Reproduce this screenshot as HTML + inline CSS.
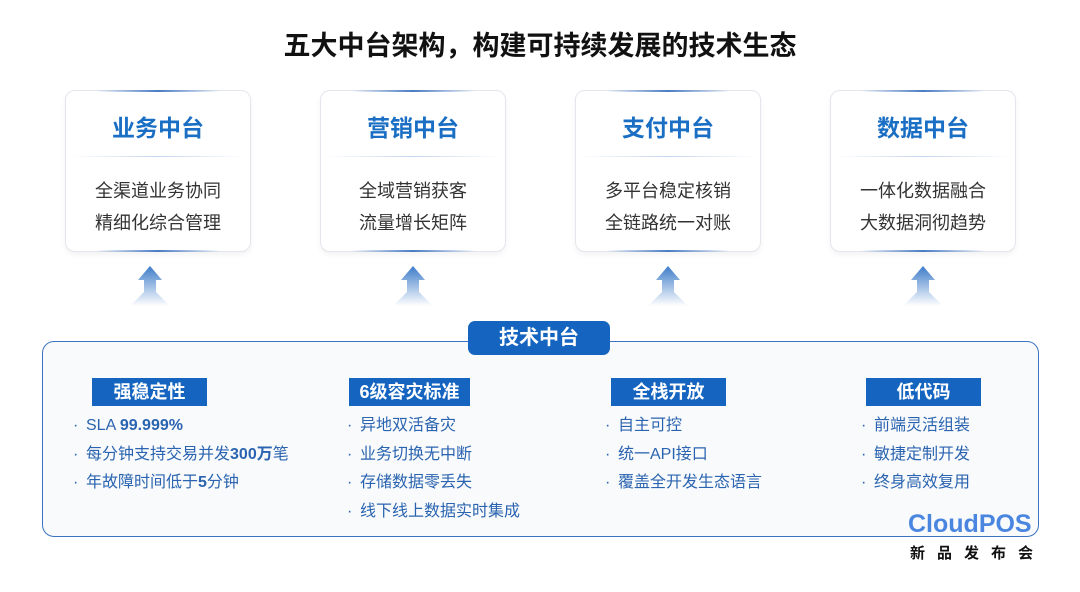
<!DOCTYPE html>
<html><head><meta charset="utf-8"><style>
*{margin:0;padding:0;box-sizing:border-box}
body{width:1080px;height:592px;background:#fff;position:relative;overflow:hidden;font-family:"Liberation Sans","Noto Sans CJK SC",sans-serif}
.abs{position:absolute}
.title{left:0;width:1080px;top:24px;text-align:center;font-size:27px;font-weight:bold;color:#111}
.card{width:186px;height:162px;top:90px;border:1px solid #e3e6ec;border-radius:10px;background:#fff;box-shadow:0 3px 6px rgba(0,0,0,.05);text-align:center}
.card:before,.card:after{content:"";position:absolute;left:30px;right:30px;height:2px;background:linear-gradient(90deg,transparent,#4a7cc4,transparent)}
.card:before{top:-1px}.card:after{bottom:-1px}
.card h2{font-size:23px;color:#1a6fc4;margin-top:22px;line-height:30px}
.card .hr{margin:13px 4px 0;height:1px;background:linear-gradient(90deg,transparent,#c2d6f0,transparent)}
.card p{font-size:18px;color:#333;line-height:32px}
.card .p1{margin-top:18px}
.box{left:42px;top:341px;width:997px;height:196px;border:1.5px solid #3b73c0;border-radius:12px;background:#f9fafc}
.tag{left:468px;top:321px;width:142px;height:34px;background:#1565c0;border-radius:7px;color:#fff;font-weight:bold;font-size:20px;text-align:center;line-height:34px}
.lab{top:378px;height:28px;width:115px;background:#1565c0;color:#fff;font-weight:bold;font-size:18px;text-align:center;line-height:28px}
.list{top:412px;font-size:16px;color:#2a64b0;line-height:28.5px}
.list div:before{content:"·";position:absolute;margin-left:-13px}
.list b{font-weight:bold}
.logo{left:908px;top:510px;font-size:25px;font-weight:bold;color:#4a86e0}
.sub{left:910px;top:542px;font-size:15px;font-weight:bold;color:#111;letter-spacing:12px}
</style></head><body>
<div class="abs title">五大中台架构，构建可持续发展的技术生态</div>

<div class="abs card" style="left:65px"><h2>业务中台</h2><div class="hr"></div><p class="p1">全渠道业务协同</p><p>精细化综合管理</p></div>
<div class="abs card" style="left:320px"><h2>营销中台</h2><div class="hr"></div><p class="p1">全域营销获客</p><p>流量增长矩阵</p></div>
<div class="abs card" style="left:575px"><h2>支付中台</h2><div class="hr"></div><p class="p1">多平台稳定核销</p><p>全链路统一对账</p></div>
<div class="abs card" style="left:830px"><h2>数据中台</h2><div class="hr"></div><p class="p1">一体化数据融合</p><p>大数据洞彻趋势</p></div>

<svg class="abs" style="left:0;top:0" width="1080" height="320">
<defs><linearGradient id="g" x1="0" y1="0" x2="0" y2="1"><stop offset="0" stop-color="#3d7cc8"/><stop offset="1" stop-color="#3d7cc8" stop-opacity="0"/></linearGradient></defs>
<g fill="url(#g)">
<path d="M150 266 L162 280 L156 280 L156 292 L170 306 L130 306 L144 292 L144 280 L138 280 Z"/>
<path d="M413 266 L425 280 L419 280 L419 292 L433 306 L393 306 L407 292 L407 280 L401 280 Z"/>
<path d="M668 266 L680 280 L674 280 L674 292 L688 306 L648 306 L662 292 L662 280 L656 280 Z"/>
<path d="M923 266 L935 280 L929 280 L929 292 L943 306 L903 306 L917 292 L917 280 L911 280 Z"/>
</g></svg>

<div class="abs box"></div>
<div class="abs tag">技术中台</div>

<div class="abs lab" style="left:92px">强稳定性</div>
<div class="abs lab" style="left:349px;width:121px">6级容灾标准</div>
<div class="abs lab" style="left:611px">全栈开放</div>
<div class="abs lab" style="left:866px">低代码</div>

<div class="abs list" style="left:86px"><div>SLA <b>99.999%</b></div><div>每分钟支持交易并发<b>300万</b>笔</div><div>年故障时间低于<b>5</b>分钟</div></div>
<div class="abs list" style="left:360px"><div>异地双活备灾</div><div>业务切换无中断</div><div>存储数据零丢失</div><div>线下线上数据实时集成</div></div>
<div class="abs list" style="left:618px"><div>自主可控</div><div>统一API接口</div><div>覆盖全开发生态语言</div></div>
<div class="abs list" style="left:874px"><div>前端灵活组装</div><div>敏捷定制开发</div><div>终身高效复用</div></div>

<div class="abs logo">CloudPOS</div>
<div class="abs sub">新品发布会</div>
</body></html>
